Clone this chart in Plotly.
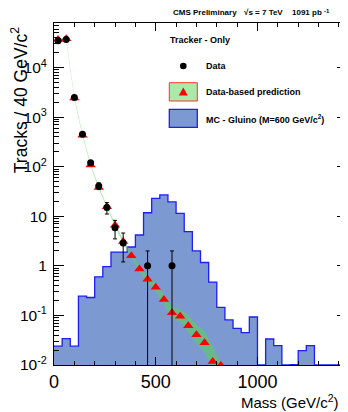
import plotly.graph_objects as go

# ---------------- data ----------------
# MC gluino histogram: 40 GeV/c^2 bins from 0 to 1440
mc_bin_edges = [0, 40, 80, 120, 160, 200, 240, 280, 320, 360, 400, 440, 480, 520,
                560, 600, 640, 680, 720, 760, 800, 840, 880, 920, 960, 1000, 1040,
                1080, 1120, 1160, 1200, 1240, 1280, 1320, 1360, 1400, 1440]
mc_gluino = [0.024, 0.034, 0.024, 0.245, 0.23, 0.6, 0.97, 1.9, 1.9, 2.4, 4.2, 11.8,
             23, 27, 19.5, 11.5, 4.9, 2.0, 1.17, 0.47, 0.145, 0.081, 0.055, 0.045,
             0.093, 0, 0.0335, 0.0246, 0, 0.0102, 0.0195, 0.0246, 0, 0, 0, 0]

# Data-based prediction (bin centres) and its uncertainty band
pred_mass = [20, 60, 100, 140, 180, 220, 260, 300, 340, 380, 420, 460, 500, 540,
             580, 620, 660, 700, 740, 780, 820]
pred_tracks = [37000, 38000, 2450, 430, 108, 38, 15.5, 6.6, 3.1, 1.6, 0.86, 0.54,
               0.37, 0.21, 0.113, 0.096, 0.062, 0.041, 0.028, 0.0117, 0.0098]
band_hi = [39000, 40000, 2580, 452, 114, 40, 16.4, 7.0, 3.35, 1.78, 0.98, 0.64,
           0.45, 0.26, 0.15, 0.135, 0.1, 0.066, 0.048, 0.024, 0.011]
band_lo = [35200, 36100, 2330, 410, 103, 36, 14.7, 6.2, 2.85, 1.42, 0.74, 0.45,
           0.3, 0.165, 0.09, 0.072, 0.045, 0.027, 0.018, 0.0085, 0.006]

# Observed data
data_mass = [20, 60, 100, 140, 180, 220, 260, 300, 340, 460, 580]
data_tracks = [35000, 37000, 2500, 450, 120, 41, 15, 5.9, 2.9, 1, 1]
data_err_up = [187, 192, 50, 21, 11, 6.4, 3.9, 2.4, 1.7, 1, 1]
data_err_dn = [187, 192, 50, 21, 11, 6.4, 3.9, 2.4, 1.7, 0.999, 0.999]

y_tickvals = [0.01, 0.1, 1, 10, 100, 1000, 10000]
y_ticktext = ["10<sup>-2</sup>", "10<sup>-1</sup>", "1", "10",
              "10<sup>2</sup>", "10<sup>3</sup>", "10<sup>4</sup>"]
x_range = [0, 1440]
y_log_range = [-2, 4.9]

# ---------------- figure ----------------
# page body has an 8px default margin -> draw a 340x404 figure offset by 8px
OFF = 8
W, H = 348 - OFF, 412 - OFF
ML, MR, MT, MB = 54 - OFF, 1, 23 - OFF, 47
PW, PH = W - ML - MR, H - MT - MB

def px(xp):
    """reference-pixel x -> paper fraction"""
    return (xp - OFF - ML) / PW

def py(yp):
    """reference-pixel y -> paper fraction"""
    return 1 - (yp - OFF - MT) / PH

FONT = "Liberation Sans, Arial, Helvetica, sans-serif"
floor = 10 ** y_log_range[0]

fig = go.Figure()

# MC histogram as step
hist_y = [max(v, floor) for v in mc_gluino] + [max(mc_gluino[-1], floor)]
fig.add_trace(go.Scatter(
    x=mc_bin_edges, y=hist_y, mode="lines", line_shape="hv",
    line=dict(color="rgb(30,30,245)", width=1.3),
    fill="tozeroy", fillcolor="#7d99d1", showlegend=False, hoverinfo="skip"))

# prediction band
fig.add_trace(go.Scatter(
    x=pred_mass + pred_mass[::-1], y=band_hi + band_lo[::-1],
    mode="lines", line=dict(width=0), fill="toself",
    fillcolor="rgba(89,212,84,0.55)", showlegend=False, hoverinfo="skip"))

# prediction triangles
fig.add_trace(go.Scatter(
    x=pred_mass, y=pred_tracks, mode="markers",
    marker=dict(symbol="triangle-up", size=9, color="#ff0000"),
    showlegend=False))

# data
fig.add_trace(go.Scatter(
    x=data_mass, y=data_tracks, mode="markers",
    marker=dict(symbol="circle", size=7, color="black"),
    error_y=dict(type="data", symmetric=False, array=data_err_up,
                 arrayminus=data_err_dn, color="black", thickness=1, width=2),
    showlegend=False))

# ---------------- manual legend ----------------
shapes = []
ann = []
ann.append(dict(text="<b>Tracker - Only</b>", x=px(167.5), y=py(39.5),
                xanchor="left", yanchor="middle"))
ann.append(dict(text="<b>Data</b>", x=px(203.5), y=py(66),
                xanchor="left", yanchor="middle"))
ann.append(dict(text="<b>Data-based prediction</b>", x=px(203.5), y=py(92),
                xanchor="left", yanchor="middle"))
ann.append(dict(text="<b>MC - Gluino (M=600 GeV/c<sup>2</sup>)</b>", x=px(203.5),
                y=py(119.3), xanchor="left", yanchor="middle"))
for a in ann:
    a.update(xref="paper", yref="paper", showarrow=False,
             font=dict(family=FONT, size=9, color="black"))

shapes.append(dict(type="circle", xref="paper", yref="paper",
                   x0=px(180.0), x1=px(186.6), y0=py(69.3), y1=py(62.7),
                   fillcolor="black", line=dict(color="black", width=0)))
shapes.append(dict(type="rect", xref="paper", yref="paper",
                   x0=px(169.3), x1=px(197.3), y0=py(101), y1=py(82.7),
                   fillcolor="rgba(89,212,84,0.5)", line=dict(color="#ff3030", width=1)))
shapes.append(dict(type="path", xref="paper", yref="paper",
                   path="M {:.5f} {:.5f} L {:.5f} {:.5f} L {:.5f} {:.5f} Z".format(
                       px(178.8), py(95.5), px(187.8), py(95.5), px(183.3), py(87.5)),
                   fillcolor="#ff0000", line=dict(color="#ff0000", width=0)))
shapes.append(dict(type="rect", xref="paper", yref="paper",
                   x0=px(169.3), x1=px(197.3), y0=py(127.3), y1=py(109.3),
                   fillcolor="#7d99d1", line=dict(color="rgb(30,30,245)", width=1.3)))

# header
hdr_font = dict(family=FONT, size=8, color="black")
for txt, xp in [("<b>CMS Preliminary</b>", 171), ("<b>√s = 7 TeV</b>", 242),
                ("<b>1091 pb</b>", 290)]:
    ann.append(dict(text=txt, x=px(xp), y=py(12.5), xref="paper", yref="paper",
                    xanchor="left", yanchor="middle", showarrow=False, font=hdr_font))
ann.append(dict(text="<b>-1</b>", x=px(322), y=py(11.5), xref="paper", yref="paper",
                xanchor="left", yanchor="middle", showarrow=False,
                font=dict(family=FONT, size=6, color="black")))

# axis titles
ann.append(dict(text="Tracks / 40 GeV/c<sup>2</sup>", textangle=-90,
                x=px(19.2), y=py(25), xref="paper", yref="paper",
                xanchor="center", yanchor="top", showarrow=False,
                font=dict(family=FONT, size=17.5, color="black")))
ann.append(dict(text="Mass (GeV/c<sup>2</sup>)", x=px(239), y=py(401),
                xref="paper", yref="paper", xanchor="left", yanchor="middle",
                showarrow=False, font=dict(family=FONT, size=15, color="black")))

minor_y = [k * 10 ** e for e in range(-2, 5) for k in range(2, 10)]

fig.update_layout(
    width=W, height=H,
    margin=dict(l=ML, r=MR, t=MT, b=MB, pad=0, autoexpand=False),
    paper_bgcolor="white", plot_bgcolor="white",
    font=dict(family=FONT, color="black"),
    showlegend=False,
    shapes=shapes, annotations=ann,
    xaxis=dict(range=x_range, tickmode="linear", tick0=0, dtick=500,
               ticks="inside", ticklen=8, tickwidth=1, tickcolor="black",
               minor=dict(dtick=100, ticks="inside", ticklen=4, tickcolor="black"),
               showline=True, linecolor="black", linewidth=1, mirror="ticks",
               showgrid=False, zeroline=False, automargin=False,
               tickfont=dict(family=FONT, size=18, color="black")),
    yaxis=dict(type="log", range=y_log_range, tickmode="array",
               tickvals=y_tickvals, ticktext=y_ticktext,
               ticks="inside", ticklen=10, tickwidth=1, tickcolor="black",
               minor=dict(tickmode="array", tickvals=minor_y, ticks="inside",
                          ticklen=5, tickcolor="black"),
               showline=True, linecolor="black", linewidth=1, mirror="ticks",
               showgrid=False, zeroline=False, automargin=False,
               ticklabelstandoff=3,
               tickfont=dict(family=FONT, size=15.5, color="black")),
)

fig.write_html("out.html")
